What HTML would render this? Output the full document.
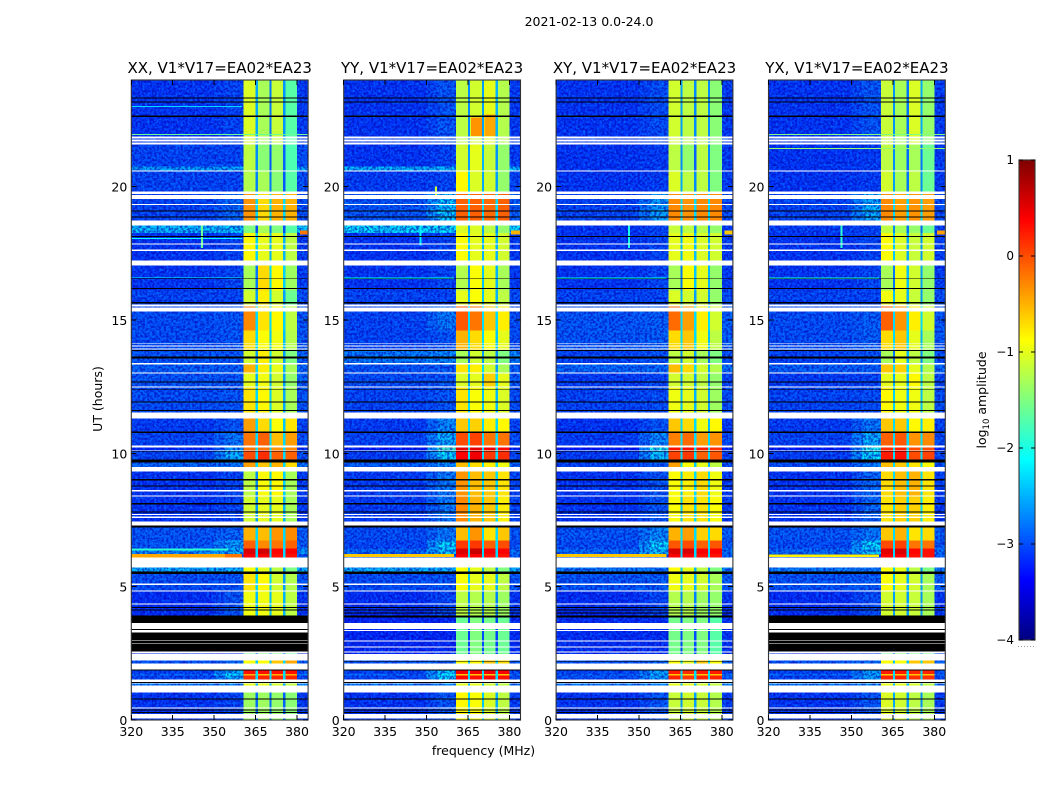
<!DOCTYPE html>
<html lang="en">
<head>
<meta charset="utf-8">
<title>2021-02-13 0.0-24.0</title>
<style>
html,body{margin:0;padding:0;background:#fff;}
svg{display:block;font-family:"DejaVu Sans","Liberation Sans",sans-serif;fill:#000;}
</style>
</head>
<body>
<svg id="fig" xmlns="http://www.w3.org/2000/svg" width="1050" height="800" viewBox="0 0 1050 800">
<defs>
<filter id="speckLight" x="0" y="0" width="100%" height="100%" color-interpolation-filters="sRGB">
<feTurbulence type="fractalNoise" baseFrequency="0.42" numOctaves="2" seed="4"/>
<feColorMatrix type="matrix" values="0 0 0 0 0  0 0 0 0 0.5  0 0 0 0 1  4 0 0 0 -1.8"/>
</filter>
<filter id="speckDark" x="0" y="0" width="100%" height="100%" color-interpolation-filters="sRGB">
<feTurbulence type="fractalNoise" baseFrequency="0.42" numOctaves="2" seed="11"/>
<feColorMatrix type="matrix" values="0 0 0 0 0  0 0 0 0 0  0 0 0 0 0.7  4 0 0 0 -1.6"/>
</filter>
</defs>
<text x="589" y="26" font-size="12.5" text-anchor="middle">2021-02-13 0.0-24.0</text>
<text x="0" y="0" font-size="12.5" text-anchor="middle" transform="translate(102,399) rotate(-90)">UT (hours)</text>
<text x="483.5" y="755" font-size="12.5" text-anchor="middle">frequency (MHz)</text>
<text x="0" y="0" font-size="12.5" text-anchor="middle" transform="translate(986,400) rotate(-90)">log<tspan font-size="8.5" dy="3">10</tspan><tspan dy="-3"> amplitude</tspan></text>
<g id="panels"></g>
<g id="cbar"></g>
<line x1="1018" y1="646.5" x2="1035" y2="646.5" stroke="#999" stroke-width="1" stroke-dasharray="1 2"/>
</svg>
<script>
// ---------- data ----------
const panelTitles = ["XX, V1*V17=EA02*EA23", "YY, V1*V17=EA02*EA23", "XY, V1*V17=EA02*EA23", "YX, V1*V17=EA02*EA23"];
const freqTicks = [320, 335, 350, 365, 380];
const utTicks = [0, 5, 10, 15, 20];
const cbarTicks = [1, 0, -1, -2, -3, -4];

// time rows (UT hours, top to bottom of the plot)
const rowEdges = [24, 21.6, 20.75, 20.6, 19.8, 18.73, 18.27, 17.23, 16.1, 15.5, 14.6, 13.84, 13.38, 13.03, 12.47, 11.4, 10.77, 10.25, 10.1, 9.72, 9.4, 8.4, 7.29, 6.73, 6.43, 6.23, 5.71, 5.5, 4.85, 3.92, 2.23, 1.89, 1.72, 1.66, 1.45, 1.04, 0];

// frequency columns (MHz): background, band edge, four spectral windows with gaps
const windowEdges = [[360.7, 365], [365.8, 370], [370.8, 375], [375.8, 380]];

// log10 amplitude per time row: [background, band edge, window 1, window 2, window 3, window 4]
const levelsXX = [
[-3.1,-3.0,-1.05,-1.3,-1.15,-1.7],[-3.0,-3.0,-1.2,-1.45,-1.4,-1.75],[-2.5,-2.5,-1.2,-1.45,-1.4,-1.75],[-3.0,-3.0,-1.25,-1.3,-1.45,-1.7],
[-3.0,-2.8,-.35,-.7,-.5,-.5],[-2.35,-2.3,-1.5,-1.3,-1.5,-1.7],[-3.1,-3,-.85,-1,-1,-1.2],[-3.1,-3,-1.3,-.7,-.85,-1.35],
[-3.0,-3,-1.1,-.8,-1.1,-1.6],[-2.95,-2.9,-.3,-.75,-.85,-1.2],[-2.95,-2.9,-.7,-.9,-.95,-1.25],[-2.9,-2.9,-1.1,-.8,-1.1,-1.5],
[-2.85,-2.85,-.5,-.8,-1,-1.3],[-2.9,-2.9,-1,-.95,-1.1,-1.4],[-2.95,-2.9,-.75,-.85,-1.05,-1.3],[-3.05,-2.9,-.4,-.7,-.9,-.75],
[-3.0,-2.7,-.2,-.1,-.55,-.4],[-3.2,-2.6,-.2,-.2,-.35,-.3],[-3.0,-2.4,0,.15,-.1,-.1],[-2.8,-2.7,-.4,-.6,-.5,-.7],
[-3.1,-3,-1.2,-.9,-.85,-1.3],[-3.1,-3,-1.1,-1,-1,-1.3],[-2.9,-2.8,-.5,-.55,-.35,-.3],[-2.9,-2.5,-.1,-.3,-.2,-.1],
[-2.6,-2.4,.55,.6,.35,.4],[-2.9,-2.9,.4,.4,.3,.3],[-2.4,-2.4,-.9,-1,-1.2,-1.5],[-2.95,-2.9,-.75,-.85,-1.1,-1.25],
[-3.15,-2.9,-.95,-.95,-1,-1.2],[-3.2,-3.2,-1.6,-1.5,-1.55,-1.6],[-2.9,-2.8,-.9,-.9,-.6,-.45],[-3,-2.4,.3,.3,.3,.3],
[-2.8,-2.2,-.5,-.6,-.5,-.5],[-3,-2.4,.15,.2,.2,.2],[-2.7,-2.6,-1,-1,-1.1,-1.2],[-3.1,-3,-1.35,-1.35,-1.4,-1.45]];

const levelsYY = [
[-3.1,-2.9,-1.2,-1.1,-1.0,-1.25],[-3.1,-3.0,-1.1,-1.0,-1.15,-1.4],[-2.4,-2.4,-1.1,-1.0,-1.15,-1.4],[-3.05,-3.0,-.85,-1.05,-1.1,-1.4],
[-2.9,-2.3,-.1,-.1,-.15,-.1],[-2.2,-2.2,-1.05,-1.05,-1.2,-1.4],[-3.1,-3,-.9,-1,-1,-1.1],[-3.1,-3,-1.25,-.9,-1,-1.3],
[-3.0,-3,-1,-.9,-1,-1.2],[-3.0,-2.7,-.05,-.2,-.6,-.8],[-3.0,-2.9,-.5,-.7,-.9,-1],[-2.7,-2.6,-1.3,-1.1,-1.2,-1.5],
[-2.9,-2.85,-.75,-.8,-1.1,-1.3],[-2.95,-2.9,-1.05,-1,-.65,-1],[-3.0,-2.9,-.75,-.9,-.95,-1.05],[-3.05,-2.6,-.6,-.65,-.8,-.85],
[-3.0,-2.4,0,.05,-.2,-.2],[-3.3,-1.8,.5,.5,.45,.35],[-3.05,-2.2,.4,.45,.1,.15],[-2.85,-2.6,-.55,-.7,-.8,-.95],
[-3.05,-2.7,-.35,-.55,-.6,-.75],[-3.05,-2.7,-.3,-.5,-.6,-.8],[-2.95,-2.7,-.55,-.35,-.75,-.6],[-3,-2.2,.1,.1,-.1,0],
[-2.8,-2.3,.55,.65,.4,.4],[-2.9,-2.9,.4,.4,.3,.3],[-2.4,-2.4,-.9,-1,-1.2,-1.5],[-2.95,-2.9,-.9,-1,-1,-1.2],
[-3.15,-3.0,-1.2,-1.25,-1.25,-1.35],[-3.2,-3.2,-1.6,-1.5,-1.55,-1.6],[-2.9,-2.8,-.9,-.85,-.6,-.7],[-3,-2.3,.45,.45,.45,.4],
[-2.8,-2.2,-.6,-.6,-.6,-.6],[-3,-2.2,.35,.3,.35,.3],[-2.7,-2.6,-1,-1,-1.1,-1.2],[-3.1,-2.9,-.85,-.9,-1.05,-1.2]];

const levelsXY = [
[-3.1,-2.95,-1.1,-1.2,-1.2,-1.45],[-3.1,-3.05,-1.2,-1.4,-1.2,-1.5],[-3.1,-3.05,-1.2,-1.4,-1.2,-1.5],[-3.1,-3.05,-1.05,-1.2,-1.2,-1.5],
[-3.0,-2.5,-.3,-.35,-.3,-.3],[-3.1,-3.0,-1.15,-1.2,-1.25,-1.4],[-3.1,-3,-1,-.95,-1.05,-1.1],[-3.1,-3,-1.3,-.9,-1,-1.4],
[-3.0,-3,-1.05,-1.1,-1.1,-1.4],[-2.9,-2.85,-.15,-.4,-.8,-1.1],[-2.9,-2.85,-.7,-.6,-.95,-1.2],[-3.0,-2.9,-1.2,-1.1,-1.3,-1.5],
[-2.8,-2.8,-.55,-.7,-1.1,-1.25],[-3.05,-3,-1.1,-1.1,-1.2,-1.4],[-3.0,-2.95,-.95,-1,-1.1,-1.35],[-3.1,-2.9,-.6,-.7,-.95,-.85],
[-3.05,-2.6,-.25,-.15,-.4,-.35],[-3.3,-2.0,.3,.3,.25,.15],[-3.05,-2.3,.05,.1,-.1,-.05],[-3.0,-2.85,-.4,-.9,-1,-1.2],
[-3.1,-2.9,-.9,-.8,-.7,-.95],[-3.1,-2.9,-.9,-.75,-.75,-.9],[-2.9,-2.6,-.5,-.4,-.65,-.7],[-2.95,-2.2,-.05,0,-.1,-.05],
[-2.8,-2.3,.55,.55,.4,.4],[-2.9,-2.9,.4,.4,.3,.3],[-2.7,-2.7,-.9,-1,-1.2,-1.5],[-2.9,-2.85,-.95,-1,-1.1,-1.3],
[-3.15,-3.0,-1.25,-1.25,-1.35,-1.4],[-3.15,-3.15,-1.55,-1.5,-1.5,-1.7],[-2.9,-2.8,-.9,-1,-.6,-.9],[-3,-2.5,.25,.15,.25,.25],
[-2.8,-2.4,-.6,-.7,-.6,-.6],[-2.95,-2.5,.2,.1,.2,.2],[-2.7,-2.6,-1,-1,-1.1,-1.2],[-3.1,-2.9,-1.15,-1.1,-1.15,-1.25]];

const levelsYX = [
[-3.1,-2.9,-1.15,-1.3,-1.05,-1.4],[-3.1,-3.05,-1.2,-1.35,-1.3,-1.6],[-3.1,-3.05,-1.2,-1.35,-1.3,-1.6],[-3.1,-3.05,-1.1,-1.3,-1.2,-1.6],
[-3.0,-2.4,-.3,-.4,-.35,-.4],[-3.05,-3.0,-1.2,-1.3,-1.4,-1.6],[-3.1,-3,-.9,-1.05,-1.15,-1.1],[-3.1,-3,-1.3,-.95,-1.1,-1.4],
[-3.0,-3,-.95,-1,-1.15,-1.4],[-2.95,-2.85,-.1,-.35,-.8,-1.1],[-2.95,-2.85,-.7,-.6,-1,-1.3],[-3.0,-2.9,-1.3,-1,-1.2,-1.5],
[-2.85,-2.85,-.6,-.65,-1,-1.25],[-3.05,-3,-1,-1,-.85,-1.2],[-3.0,-2.95,-.85,-.95,-.95,-1.2],[-3.05,-2.7,-.6,-.6,-.85,-.8],
[-3.0,-2.4,-.1,-.05,-.35,-.3],[-3.3,-2.0,.15,.2,0,0],[-3.05,-2.2,.25,.3,0,.05],[-2.95,-2.7,-.55,-.6,-.75,-.9],
[-3.1,-2.8,-.7,-.55,-.5,-.75],[-3.1,-2.8,-.75,-.65,-.65,-.8],[-2.9,-2.7,-.6,-.5,-.75,-.7],[-2.95,-2.2,0,.05,-.2,-.2],
[-2.8,-2.3,.5,.55,.35,.3],[-2.9,-2.9,.4,.4,.3,.3],[-2.7,-2.7,-.9,-1,-1.2,-1.5],[-2.9,-2.85,-.9,-1,-1.1,-1.3],
[-3.15,-2.95,-1.1,-1.1,-1.15,-1.3],[-3.2,-3.2,-1.6,-1.5,-1.55,-1.6],[-2.9,-2.8,-.9,-.9,-.6,-.6],[-3,-2.5,.25,.25,.2,.2],
[-2.8,-2.4,-.6,-.6,-.6,-.6],[-3,-2.5,.2,.2,.15,.15],[-2.7,-2.6,-1,-1,-1.1,-1.2],[-3.1,-2.9,-1.05,-1.1,-1.2,-1.3]];

// fully flagged (white) time ranges: UT top, UT bottom
const whiteShared = [[21.89,21.81],[21.76,21.69],[21.65,21.59],[20.6,20.57],[19.82,19.72],[19.68,19.54],[19.35,19.31],[18.73,18.54],[17.87,17.83],[17.64,17.59],[17.23,17.04],[15.58,15.5],[15.46,15.32],[14.14,14.11],[14.04,14],[13.93,13.9],[13.38,13.34],[13.03,12.99],[12.5,12.47],[11.54,11.3],[10.29,10.22],[10.13,10.1],[9.48,9.32],[8.63,8.57],[8.42,8.38],[7.72,7.69],[7.63,7.58],[7.45,7.29],[6.1,5.71],[5.11,5.07],[4.86,4.82],[4.37,4.33],[2.48,2.23],[2.11,1.89],[1.52,1.42],[1.39,1.36],[1.29,1.04],[.47,.43],[.22,.05]];
const whiteCross = [[3.63,3.42],[3.37,3.28],[3.0,2.98],[2.89,2.86],[2.57,2.49]];
const whiteParallel = [[3.63,3.42],[3.38,3.33],[2.98,2.94],[2.76,2.72],[2.57,2.54]];

// zero-amplitude (black) time ranges
const blackShared = [[23.34,23.3],[23.19,23.15],[22.66,22.62],[19.1,19.06],[18.88,18.84],[18.15,18.11],[16.56,16.53],[16.2,16.16],[15.67,15.61],[13.88,13.84],[13.63,13.55],[12.69,12.65],[12.4,12.37],[11.94,11.9],[11.63,11.59],[10.81,10.77],[10.09,10.06],[9.76,9.66],[9.04,8.98],[8.79,8.76],[8.14,8.09],[7.82,7.78],[7.29,7.21],[5.56,5.48],[4.23,4.2],[4.14,4.1],[1.89,1.86],[1.42,1.39],[.81,.77],[.39,.36],[.3,.26]];
const blackCross = [[3.92,3.63],[3.42,3.37],[3.28,3.0],[2.98,2.89],[2.86,2.57]];
const blackParallel = [[3.92,3.85],[4.03,4.0],[2.2,2.17]];

// bright interference features: freq start, freq end, UT top, UT bottom, log10 amplitude
const spotsXX = [[320,360,23.02,22.99,-2.3],[320,384,21.98,21.94,-1.6],[320,360,18.07,18.04,-2.1],[345.2,345.9,18.54,17.7,-1.6],[381,384,18.35,18.2,-.2],[320,360,16.62,16.59,-2.1],[320,354,6.23,6.1,-.45],[354,360,6.23,6.1,-.2],[320,355,6.43,6.36,-1.9]];
const spotsYY = [[353,353.7,20.0,19.65,-1.1],[380.5,384,18.35,18.2,-.5],[320,360,16.6,16.56,-2.1],[347.5,348.1,18.54,17.8,-2.2],[366,370,22.6,21.9,-.35],[371,375,22.7,21.9,-.45],[320,360,6.22,6.12,-.6]];
const spotsXY = [[381,384,18.35,18.2,-.6],[346,346.7,18.54,17.7,-2.0],[320,360,16.6,16.56,-2.1],[320,360,6.22,6.12,-.6]];
const spotsYX = [[320,384,21.98,21.94,-1.5],[320,384,21.45,21.41,-1.4],[346,346.7,18.54,17.7,-1.9],[381,384,18.35,18.2,-.4],[320,360,16.6,16.56,-2.0],[320,360,6.2,6.12,-.8]];

const levelSets = [levelsXX, levelsYY, levelsXY, levelsYX];
const spotSets = [spotsXX, spotsYY, spotsXY, spotsYX];
const whiteSets = [whiteCross, whiteParallel, whiteParallel, whiteCross];
const blackSets = [blackCross, blackParallel, blackParallel, blackCross];

// ---------- geometry and scales ----------
const NS = "http://www.w3.org/2000/svg";
const panelLeft = i => 131.3 + 212.4 * i;
const panelW = 176.8, plotTop = 80, plotBottom = 720;
const fMin = 320, fMax = 384, utMax = 24;
const xScale = (i, f) => panelLeft(i) + (f - fMin) / (fMax - fMin) * panelW;
const yScale = h => plotBottom - h / utMax * (plotBottom - plotTop);
const cbTop = 160, cbBottom = 640, cbLeft = 1019, cbRight = 1035, vMin = -4, vMax = 1;
const cbScale = v => cbBottom - (v - vMin) / (vMax - vMin) * (cbBottom - cbTop);

function jet(v) {
  const t = Math.max(0, Math.min(1, (v - vMin) / (vMax - vMin)));
  const ramp = c => Math.round(255 * Math.max(0, Math.min(1, 1.5 - Math.abs(4 * t - c))));
  return "rgb(" + ramp(3) + "," + ramp(2) + "," + ramp(1) + ")";
}
function svgEl(tag, attrs, parent) {
  const el = document.createElementNS(NS, tag);
  for (const k in attrs) el.setAttribute(k, attrs[k]);
  parent.appendChild(el);
  return el;
}
function cell(parent, i, f0, f1, h0, h1, fill) {
  const x0 = xScale(i, f0), x1 = xScale(i, f1), y0 = yScale(h0), y1 = yScale(h1);
  const el = svgEl("rect", {x: x0, y: y0, width: x1 - x0, height: y1 - y0, fill: fill, "shape-rendering": "crispEdges"}, parent);
  
  
  return el;
}
function hLine(parent, x1, x2, y) {
  const el = svgEl("line", {x1: x1, x2: x2, y1: y, y2: y, stroke: "#000", "stroke-width": 1, "shape-rendering": "crispEdges"}, parent);
  
  
}
function vLine(parent, x, y1, y2) {
  const el = svgEl("line", {x1: x, x2: x, y1: y1, y2: y2, stroke: "#000", "stroke-width": 1, "shape-rendering": "crispEdges"}, parent);
  
  
}

// ---------- panels ----------
const panelsRoot = document.getElementById("panels");
panelTitles.forEach((title, i) => {
  const g = svgEl("g", {}, panelsRoot);
  
  
  const clip = svgEl("clipPath", {id: "clip" + i}, g);
  svgEl("rect", {x: panelLeft(i), y: plotTop, width: panelW, height: plotBottom - plotTop}, clip);
  const body = svgEl("g", {"clip-path": "url(#clip" + i + ")"}, g);

  const levels = levelSets[i];
  levels.forEach((row, r) => {
    const h0 = rowEdges[r], h1 = rowEdges[r + 1];
    const bg = row[0], edge = row[1];
    cell(body, i, fMin, 350, h0, h1, jet(bg));
    cell(body, i, 350, 354, h0, h1, jet((bg + edge) / 2));
    cell(body, i, 354, 361, h0, h1, jet(edge));
    cell(body, i, 380, fMax, h0, h1, jet(bg + 0.05));
  });

  // speckle texture over the noise floor
  const nx0 = xScale(i, fMin), nx1 = xScale(i, 361), rx0 = xScale(i, 380), rx1 = xScale(i, fMax);
  [["speckLight", 0.55], ["speckDark", 0.6]].forEach(s => {
    [[nx0, nx1], [rx0, rx1]].forEach(span => {
      const n = svgEl("rect", {x: span[0], y: plotTop, width: span[1] - span[0], height: plotBottom - plotTop, filter: "url(#" + s[0] + ")", opacity: s[1]}, body);
      
      
    });
  });

  // spectral windows and the gaps between them
  levels.forEach((row, r) => {
    const h0 = rowEdges[r], h1 = rowEdges[r + 1];
    windowEdges.forEach((w, k) => {
      cell(body, i, w[0], w[1], h0, h1, jet(row[2 + k]));
      if (k < 3) {
        cell(body, i, w[1], windowEdges[k + 1][0], h0, h1, jet(Math.min(row[2 + k] - 1.5, -2.3)));
      }
    });
  });

  spotSets[i].forEach(s => cell(body, i, s[0], s[1], s[2], s[3], jet(s[4])));
  blackShared.concat(blackSets[i]).forEach(b => cell(body, i, fMin, fMax, b[0], b[1], "#000"));
  whiteShared.concat(whiteSets[i]).forEach(b => cell(body, i, fMin, fMax, b[0], b[1], "#fff"));

  // frame
  const frame = svgEl("rect", {x: panelLeft(i), y: plotTop, width: panelW, height: plotBottom - plotTop, fill: "none", stroke: "#333", "stroke-width": 1.1}, g);
  
  

  // x ticks
  freqTicks.forEach(f => {
    const x = xScale(i, f);
    vLine(g, x, plotBottom, plotBottom - 5);
    vLine(g, x, plotTop, plotTop + 5);
    const t = svgEl("text", {x: x, y: 736, "font-size": 12.5, "text-anchor": "middle"}, g);
    
    
    t.textContent = f;
  });
  // y ticks
  utTicks.forEach(h => {
    const y = yScale(h);
    hLine(g, panelLeft(i), panelLeft(i) + 5, y);
    hLine(g, panelLeft(i) + panelW - 5, panelLeft(i) + panelW, y);
    const t = svgEl("text", {x: panelLeft(i) - 4, y: y + 5, "font-size": 12.5, "text-anchor": "end"}, g);
    
    
    t.textContent = h;
  });
  const tt = svgEl("text", {x: panelLeft(i) + panelW / 2, y: 73, "font-size": 15, "text-anchor": "middle"}, g);
  
  
  tt.textContent = title;
});

// ---------- colorbar ----------
const cbar = document.getElementById("cbar");
for (let py = cbTop; py < cbBottom; py += 2) {
  const v = vMax - (py + 1 - cbTop) / (cbBottom - cbTop) * (vMax - vMin);
  const el = svgEl("rect", {x: cbLeft, y: py, width: cbRight - cbLeft, height: 2, fill: jet(v), "shape-rendering": "crispEdges"}, cbar);
  
  
}
const cbFrame = svgEl("rect", {x: cbLeft, y: cbTop, width: cbRight - cbLeft, height: cbBottom - cbTop, fill: "none", stroke: "#333", "stroke-width": 1.1}, cbar);


cbarTicks.forEach(v => {
  const y = cbScale(v);
  hLine(cbar, cbLeft, cbLeft + 4, y);
  hLine(cbar, cbRight - 4, cbRight, y);
  const t = svgEl("text", {x: 1014, y: y + 4, "font-size": 12, "text-anchor": "end"}, cbar);
  
  
  t.textContent = v < 0 ? "\u2212" + Math.abs(v) : String(v);
});
</script>
</body>
</html>
